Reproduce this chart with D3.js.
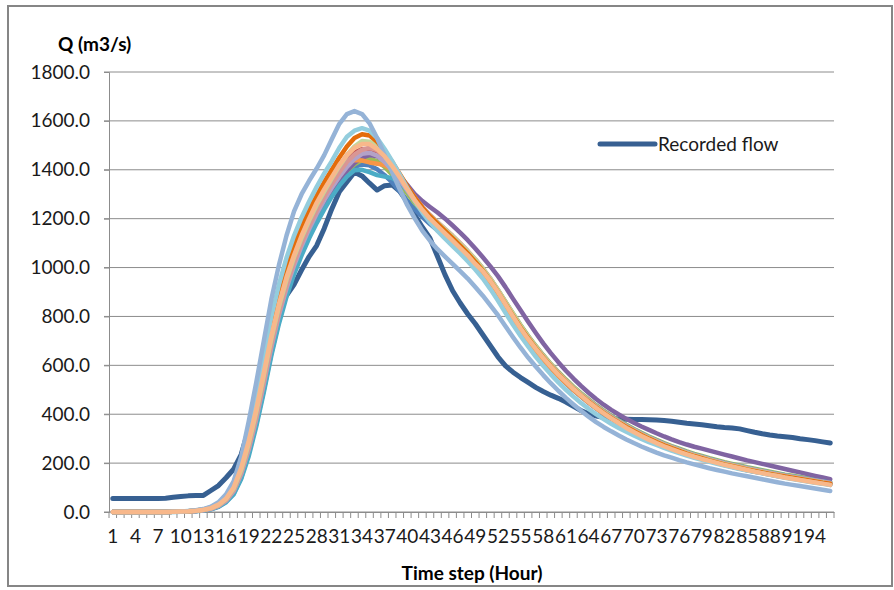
<!DOCTYPE html>
<html>
<head>
<meta charset="utf-8">
<script src="https://cdn.jsdelivr.net/npm/d3@7"></script>
<style>
  body { margin: 0; background: #fff; }
  text { font-family: Lato, "Open Sans", sans-serif; }
</style>
</head>
<body>
<script>
// categories (time steps) and tick labels
const hours = d3.range(1, 97);
const xTickLabels = [1, 4, 7, 10, 13, 16, 19, 22, 25, 28, 31, 34, 37, 40, 43, 46, 49, 52, 55, 58, 61, 64, 67, 70, 73, 76, 79, 82, 85, 88, 91, 94];
const yTicks = [0, 200, 400, 600, 800, 1000, 1200, 1400, 1600, 1800];

// recorded flow (m3/s)
const recordedFlow = [
  55, 55, 55, 55, 55, 55, 55, 56,
  60, 63, 66, 67, 68, 88, 108, 140,
  175, 235, 340, 490, 640, 760, 840, 885,
  930, 990, 1045, 1090, 1160, 1240, 1310, 1350,
  1390, 1375, 1345, 1317, 1335, 1338, 1312, 1268,
  1215, 1165, 1120, 1045, 970, 905, 855, 810,
  770, 725, 680, 635, 598, 572, 550, 530,
  510, 493, 478, 465, 450, 432, 415, 402,
  393, 387, 383, 380, 379, 378, 378, 377,
  376, 374, 371, 367, 363, 360, 357, 353,
  349, 346, 344, 340, 333, 326, 320, 315,
  311, 308, 305, 300, 296, 292, 287, 282
];

// simulated flows
const simBlue = [
  0, 0, 0, 0, 0, 0, 0, 0,
  1, 1, 2, 4, 8, 14, 26, 48,
  88, 158, 258, 382, 525, 675, 805, 912,
  1002, 1080, 1148, 1208, 1262, 1310, 1352, 1388,
  1412, 1422, 1418, 1402, 1378, 1348, 1312, 1274,
  1238, 1206, 1178, 1152, 1126, 1099, 1070, 1040,
  1007, 971, 930, 885, 837, 789, 743, 700,
  660, 623, 588, 556, 526, 498, 472, 447,
  424, 402, 382, 363, 345, 328, 312, 297,
  283, 270, 258, 247, 236, 226, 217, 208,
  200, 192, 185, 178, 171, 165, 159, 153,
  147, 142, 137, 132, 127, 122, 117, 112
];
const simRed = [
  0, 0, 0, 0, 0, 0, 0, 0,
  1, 2, 3, 5, 9, 15, 28, 50,
  92, 166, 272, 400, 548, 698, 828, 938,
  1030, 1110, 1180, 1242, 1298, 1348, 1396, 1440,
  1470, 1485, 1483, 1465, 1435, 1398, 1356, 1312,
  1270, 1233, 1202, 1175, 1148, 1120, 1090, 1060,
  1027, 990, 948, 902, 853, 804, 757, 713,
  672, 634, 598, 565, 534, 505, 478, 453,
  429, 407, 386, 367, 349, 332, 316, 301,
  287, 274, 262, 251, 240, 230, 221, 212,
  204, 196, 189, 182, 175, 169, 163, 157,
  151, 145, 140, 135, 130, 125, 120, 115
];
const simGreen = [
  0, 0, 0, 0, 0, 0, 0, 0,
  1, 1, 2, 4, 7, 13, 24, 45,
  82, 150, 248, 372, 515, 665, 795, 905,
  998, 1078, 1148, 1210, 1265, 1313, 1356, 1393,
  1422, 1440, 1445, 1435, 1412, 1380, 1343, 1303,
  1264, 1230, 1200, 1174, 1148, 1121, 1092, 1062,
  1030, 994, 953, 908, 860, 812, 765, 721,
  680, 642, 606, 573, 542, 513, 486, 461,
  437, 415, 394, 375, 357, 340, 324, 309,
  295, 282, 270, 259, 248, 238, 229, 220,
  212, 204, 197, 190, 183, 177, 171, 165,
  159, 153, 148, 143, 138, 133, 128, 123
];
const simPurple = [
  0, 0, 0, 0, 0, 0, 0, 0,
  1, 1, 2, 4, 7, 12, 22, 42,
  75, 140, 240, 360, 500, 650, 780, 890,
  985, 1065, 1135, 1200, 1258, 1310, 1356, 1396,
  1428, 1450, 1460, 1455, 1438, 1410, 1375, 1338,
  1300, 1272, 1248, 1225, 1200, 1172, 1143, 1112,
  1078, 1042, 1005, 965, 920, 872, 825, 778,
  733, 690, 650, 613, 578, 546, 516, 488,
  462, 439, 418, 399, 381, 365, 350, 336,
  322, 309, 297, 286, 276, 267, 259, 251,
  243, 235, 227, 219, 211, 204, 197, 190,
  183, 176, 169, 162, 155, 148, 141, 134
];
const simAqua = [
  0, 0, 0, 0, 0, 0, 0, 0,
  0, 1, 2, 3, 6, 11, 21, 40,
  72, 135, 228, 350, 490, 640, 770, 880,
  972, 1050, 1120, 1182, 1238, 1290, 1335, 1372,
  1398, 1400, 1390, 1378, 1372, 1366, 1348, 1315,
  1278, 1240, 1206, 1176, 1146, 1116, 1085, 1053,
  1020, 983, 941, 895, 846, 798, 752, 709,
  669, 632, 597, 565, 535, 507, 481, 456,
  433, 411, 391, 372, 354, 337, 321, 306,
  292, 279, 267, 256, 245, 235, 226, 217,
  209, 201, 194, 187, 180, 174, 168, 162,
  156, 150, 145, 140, 135, 130, 125, 120
];
const simOrange = [
  0, 0, 0, 0, 0, 0, 0, 0,
  1, 2, 3, 6, 10, 18, 33, 60,
  108, 192, 308, 450, 605, 755, 880, 985,
  1070, 1145, 1210, 1268, 1318, 1362, 1400, 1428,
  1440, 1438, 1430, 1425, 1418, 1400, 1365, 1320,
  1275, 1235, 1200, 1170, 1140, 1110, 1078, 1046,
  1012, 975, 933, 887, 838, 790, 744, 701,
  661, 624, 589, 557, 527, 499, 473, 448,
  425, 403, 383, 364, 346, 329, 313, 298,
  284, 271, 259, 248, 237, 227, 218, 209,
  201, 193, 186, 179, 172, 166, 160, 154,
  148, 143, 138, 133, 128, 123, 118, 113
];
const simLavender = [
  0, 0, 0, 0, 0, 0, 0, 0,
  1, 1, 2, 4, 7, 13, 25, 46,
  85, 155, 255, 380, 525, 675, 805, 915,
  1008, 1088, 1158, 1220, 1276, 1326, 1372, 1412,
  1444, 1465, 1470, 1458, 1432, 1398, 1358, 1315,
  1274, 1238, 1207, 1180, 1153, 1125, 1095, 1064,
  1031, 994, 952, 906, 857, 808, 761, 717,
  676, 638, 602, 569, 538, 509, 482, 457,
  433, 411, 390, 371, 353, 336, 320, 305,
  291, 278, 266, 255, 244, 234, 225, 216,
  208, 200, 193, 186, 179, 173, 167, 161,
  155, 149, 144, 139, 134, 129, 124, 119
];
const simPink = [
  0, 0, 0, 0, 0, 0, 0, 0,
  1, 1, 2, 4, 8, 14, 26, 48,
  88, 160, 262, 388, 534, 684, 814, 926,
  1020, 1100, 1170, 1233, 1290, 1342, 1390, 1432,
  1462, 1482, 1490, 1480, 1455, 1418, 1375, 1330,
  1287, 1248, 1215, 1186, 1158, 1130, 1100, 1068,
  1034, 997, 955, 908, 858, 808, 760, 716,
  675, 637, 601, 568, 537, 508, 481, 456,
  432, 410, 389, 370, 352, 335, 319, 304,
  290, 277, 265, 254, 243, 233, 224, 215,
  207, 199, 192, 185, 178, 172, 166, 160,
  154, 148, 143, 138, 133, 128, 123, 118
];
const simLightGreen = [
  0, 0, 0, 0, 0, 0, 0, 0,
  1, 2, 3, 5, 9, 16, 29, 53,
  96, 172, 280, 410, 560, 710, 840, 950,
  1042, 1122, 1192, 1256, 1312, 1365, 1415, 1460,
  1495, 1518, 1515, 1495, 1462, 1420, 1374, 1326,
  1282, 1244, 1212, 1184, 1156, 1127, 1097, 1066,
  1033, 996, 954, 908, 859, 810, 762, 717,
  676, 637, 601, 567, 536, 507, 480, 454,
  430, 408, 387, 368, 350, 333, 317, 302,
  288, 275, 263, 252, 241, 231, 222, 213,
  205, 197, 190, 183, 176, 170, 164, 158,
  152, 146, 141, 136, 131, 126, 121, 116
];
const simDarkOrange = [
  0, 0, 0, 0, 0, 0, 0, 0,
  1, 2, 3, 6, 10, 18, 33, 62,
  112, 200, 320, 465, 625, 780, 905, 1010,
  1095, 1170, 1235, 1295, 1350, 1400, 1450, 1495,
  1530, 1545, 1540, 1515, 1478, 1432, 1383, 1333,
  1286, 1245, 1210, 1180, 1150, 1120, 1090, 1058,
  1024, 988, 946, 900, 851, 802, 755, 711,
  670, 632, 597, 564, 533, 504, 477, 452,
  428, 406, 385, 366, 348, 331, 315, 300,
  286, 273, 261, 250, 239, 229, 220, 211,
  203, 195, 188, 181, 174, 168, 162, 156,
  150, 145, 140, 135, 130, 125, 120, 116
];
const simLightAqua = [
  0, 0, 0, 0, 0, 0, 0, 0,
  1, 2, 4, 6, 11, 20, 36, 66,
  120, 210, 335, 480, 640, 800, 930, 1040,
  1130, 1205, 1270, 1330, 1385, 1435, 1490, 1535,
  1560, 1570, 1560, 1530, 1485, 1435, 1380, 1325,
  1272, 1225, 1185, 1150, 1118, 1088, 1058, 1026,
  992, 955, 912, 865, 815, 766, 720, 677,
  636, 598, 563, 530, 500, 472, 446, 422,
  400, 380, 361, 344, 328, 313, 299, 286,
  274, 262, 251, 241, 231, 222, 213, 205,
  197, 190, 183, 176, 170, 164, 158, 152,
  146, 140, 135, 130, 125, 120, 115, 110
];
const simSteelBlue = [
  0, 0, 0, 0, 0, 0, 0, 0,
  1, 2, 4, 7, 12, 22, 40, 72,
  125, 225, 370, 530, 700, 870, 1010, 1130,
  1230, 1300, 1355, 1405, 1460, 1525, 1588, 1628,
  1640, 1628, 1590, 1530, 1460, 1390, 1320, 1255,
  1200, 1150, 1110, 1075, 1045, 1015, 985, 955,
  920, 885, 845, 805, 760, 715, 672, 632,
  595, 560, 527, 496, 467, 440, 414, 390,
  368, 348, 330, 313, 297, 282, 268, 255,
  243, 232, 222, 212, 203, 195, 187, 179,
  172, 165, 158, 152, 146, 140, 134, 128,
  122, 116, 111, 106, 101, 96, 91, 86
];
const simPeach = [
  0, 0, 0, 0, 0, 0, 0, 0,
  1, 2, 3, 5, 9, 16, 30, 55,
  100, 180, 290, 420, 570, 720, 850, 960,
  1050, 1130, 1200, 1265, 1320, 1370, 1420, 1460,
  1490, 1505, 1505, 1485, 1455, 1415, 1370, 1320,
  1275, 1235, 1200, 1170, 1140, 1110, 1080, 1050,
  1015, 985, 945, 900, 850, 800, 752, 708,
  668, 630, 595, 562, 532, 503, 476, 450,
  426, 404, 383, 364, 344, 327, 311, 296,
  282, 269, 257, 246, 236, 226, 217, 209,
  201, 193, 186, 179, 172, 165, 159, 153,
  147, 141, 136, 131, 126, 121, 116, 111
];

const simSeries = [simBlue, simRed, simGreen, simPurple, simAqua, simOrange, simLavender,
  simPink, simLightGreen, simDarkOrange, simLightAqua, simSteelBlue, simPeach];
const simColors = ["#4F81BD", "#C0504D", "#9BBB59", "#8064A2", "#4BACC6", "#F79646", "#B3A2C7",
  "#D99694", "#C3D69B", "#E46C0A", "#93CDDD", "#95B3D7", "#F8B88B"];

const width = 894, height = 590;
const svg = d3.select("body").append("svg")
  .attr("width", width)
  .attr("height", height);

// chart border
svg.append("rect")
  .attr("x", 8).attr("y", 6)
  .attr("width", 884).attr("height", 580)
  .attr("fill", "#fff")
  .attr("stroke", "#868686")
  .attr("stroke-width", 2);

const x = d3.scaleBand().domain(hours).range([109, 834]);
const y = d3.scaleLinear().domain([0, 1800]).range([512, 72]);

// gridlines
svg.append("g")
  .selectAll("line")
  .data(yTicks)
  .enter().append("line")
  .attr("x1", 104).attr("x2", 834)
  .attr("y1", d => y(d)).attr("y2", d => y(d))
  .attr("stroke", "#8c8c8c")
  .attr("stroke-width", 1);

// y axis
const yAxis = svg.append("g")
  .attr("transform", "translate(109,0)")
  .call(d3.axisLeft(y).tickValues(yTicks).tickFormat(d3.format(".1f")).tickSize(5).tickPadding(14));
yAxis.select(".domain").attr("stroke", "#8c8c8c");
yAxis.selectAll(".tick line").attr("stroke", "#8c8c8c");
yAxis.selectAll("text")
  .attr("font-size", 19)
  .attr("font-family", "Lato, sans-serif")
  .attr("fill", "#1a1a1a");

// x axis
const xAxis = svg.append("g")
  .attr("transform", "translate(0,512)")
  .call(d3.axisBottom(x).tickValues(xTickLabels).tickSize(0));
xAxis.select(".domain").attr("stroke", "#8c8c8c");
xAxis.selectAll("text")
  .attr("y", 31).attr("dy", 0)
  .attr("font-size", 19)
  .attr("font-family", "Lato, sans-serif")
  .attr("fill", "#1a1a1a");

// tick marks between categories
xAxis.append("g")
  .selectAll("line")
  .data(hours.map(h => x(h)).concat([x.range()[1]]))
  .enter().append("line")
  .attr("x1", d => d).attr("x2", d => d)
  .attr("y1", 0).attr("y2", 6)
  .attr("stroke", "#8c8c8c");

// lines
const line = d3.line()
  .x((d, i) => x(hours[i]) + x.bandwidth() / 2)
  .y(d => y(d));

svg.append("path")
  .datum(recordedFlow)
  .attr("fill", "none")
  .attr("stroke", "#376092")
  .attr("stroke-width", 5)
  .attr("stroke-linejoin", "round")
  .attr("stroke-linecap", "round")
  .attr("d", line);

svg.append("g")
  .selectAll("path")
  .data(simSeries)
  .enter().append("path")
  .attr("fill", "none")
  .attr("stroke", (d, i) => simColors[i])
  .attr("stroke-width", 4.5)
  .attr("stroke-linejoin", "round")
  .attr("stroke-linecap", "round")
  .attr("d", line);

// legend
svg.append("line")
  .attr("x1", 600).attr("x2", 655)
  .attr("y1", 144).attr("y2", 144)
  .attr("stroke", "#376092")
  .attr("stroke-width", 5)
  .attr("stroke-linecap", "round");
svg.append("text")
  .attr("x", 658).attr("y", 151)
  .attr("font-size", 19)
  .attr("fill", "#1a1a1a")
  .text("Recorded flow");

// axis titles
svg.append("text")
  .attr("x", 58).attr("y", 51)
  .attr("font-size", 19)
  .attr("font-weight", "bold")
  .attr("fill", "#000")
  .text("Q (m3/s)");

svg.append("text")
  .attr("x", 472).attr("y", 580)
  .attr("text-anchor", "middle")
  .attr("font-size", 19)
  .attr("font-weight", "bold")
  .attr("fill", "#000")
  .text("Time step (Hour)");
</script>
</body>
</html>
